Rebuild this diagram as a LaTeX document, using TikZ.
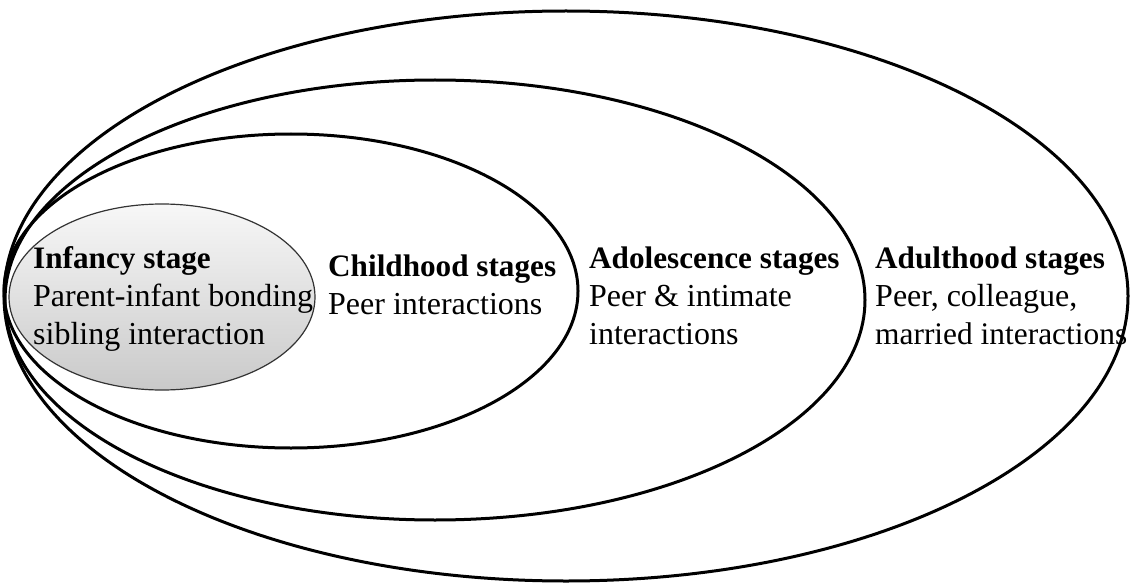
\documentclass[tikz,border=0pt]{standalone}
\usepackage{fontspec}
\setmainfont{Liberation Serif}
\newcommand{\stagehead}[1]{{\fontsize{31.2}{38}\selectfont\bfseries #1}}
\begin{document}
\begin{tikzpicture}[x=1pt,y=-1pt,
  ring/.style={draw=black,line width=3pt},
  core/.style={draw=black!80,line width=1.2pt,top color=gray!6,bottom color=gray!42},
  stagetext/.style={inner sep=0pt,anchor=base west,align=left,
    font=\fontsize{32}{38}\selectfont}]
\useasboundingbox (0,0) rectangle (1130,583);
% nested life-stage rings, all touching at the left
\draw[ring] (566,296) ellipse [x radius=562pt,y radius=285pt];
\draw[ring] (435,300) ellipse [x radius=430pt,y radius=220pt];
\draw[ring] (291,291) ellipse [x radius=287pt,y radius=157pt];
\draw[core] (162,297) ellipse [x radius=153pt,y radius=93pt];
% stage labels (anchored at the baseline of their last line)
\node[stagetext] (infancy) at (33,344)
  {\stagehead{Infancy stage}\\Parent-infant bonding\\sibling interaction};
\node[stagetext] (childhood) at (328,314)
  {\stagehead{Childhood stages}\\Peer interactions};
\node[stagetext] (adolescence) at (589,344)
  {\stagehead{Adolescence stages}\\Peer \& intimate\\interactions};
\node[stagetext] (adulthood) at (875,344)
  {\stagehead{Adulthood stages}\\Peer, colleague,\\{\fontsize{31.4}{38}\selectfont married interactions}};
\end{tikzpicture}
\end{document}
